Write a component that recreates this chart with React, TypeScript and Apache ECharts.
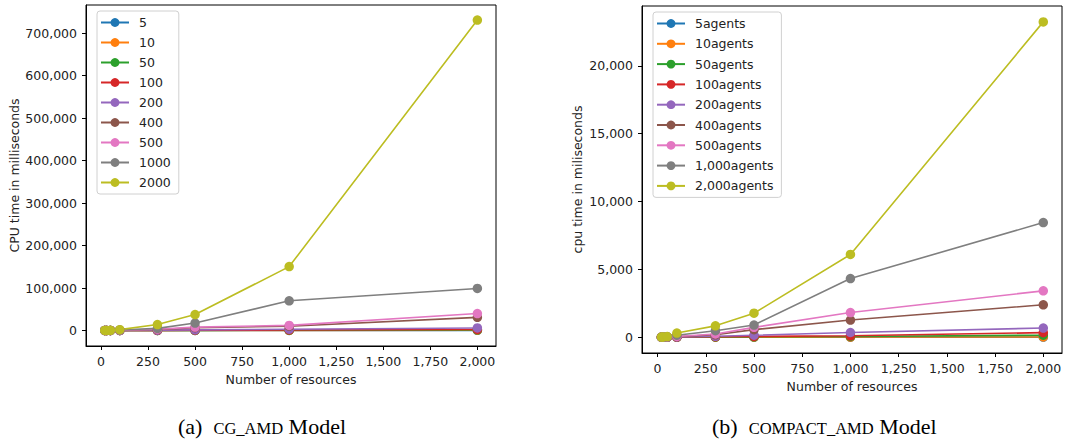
import React, { useEffect, useRef } from "react";
import * as echarts from "echarts";

const resources = [20, 30, 50, 100, 300, 500, 1000, 2000];
const xTicks = [0, 250, 500, 750, 1000, 1250, 1500, 1750, 2000];

const cgNames = ["5", "10", "50", "100", "200", "400", "500", "1000", "2000"];
const cg5 = [2, 3, 5, 10, 30, 60, 150, 400];
const cg10 = [3, 5, 8, 20, 60, 120, 300, 800];
const cg50 = [5, 8, 15, 40, 150, 300, 700, 1500];
const cg100 = [10, 15, 30, 80, 300, 600, 1200, 2500];
const cg200 = [20, 30, 60, 150, 600, 1500, 3000, 6000];
const cg400 = [40, 60, 120, 300, 2500, 6500, 10000, 31000];
const cg500 = [50, 80, 150, 500, 3000, 8000, 12000, 40000];
const cg1000 = [80, 120, 250, 1000, 5000, 17500, 70000, 99000];
const cg2000 = [150, 250, 500, 2000, 14000, 37500, 150500, 731000];
const cgYTicks = [0, 100000, 200000, 300000, 400000, 500000, 600000, 700000];

const cpNames = ["5agents", "10agents", "50agents", "100agents", "200agents", "400agents", "500agents", "1,000agents", "2,000agents"];
const cp5 = [1, 1, 2, 3, 5, 6, 8, 10];
const cp10 = [1, 2, 3, 4, 8, 10, 15, 20];
const cp50 = [2, 3, 5, 8, 20, 30, 60, 150];
const cp100 = [3, 5, 8, 15, 40, 60, 110, 340];
const cp200 = [4, 6, 10, 20, 70, 150, 350, 680];
const cp400 = [5, 8, 15, 40, 180, 560, 1270, 2390];
const cp500 = [6, 10, 20, 60, 240, 730, 1820, 3420];
const cp1000 = [8, 15, 30, 150, 480, 900, 4325, 8450];
const cp2000 = [10, 20, 50, 310, 840, 1770, 6100, 23240];
const cpYTicks = [0, 5000, 10000, 15000, 20000];

const colors = ["#1f77b4", "#ff7f0e", "#2ca02c", "#d62728", "#9467bd", "#8c564b", "#e377c2", "#7f7f7f", "#bcbd22"];

const FONT = "DejaVu Sans";
const FS = 12.5;
const TXT = "#222";

function fmt(v: number) {
  return Math.round(v).toLocaleString("en-US");
}

export default function App() {
  const ref = useRef<HTMLDivElement>(null);
  useEffect(() => {
    document.body.style.margin = "0";
    const chart = echarts.init(ref.current!, undefined, { renderer: "svg" });
    const cgData = [cg5, cg10, cg50, cg100, cg200, cg400, cg500, cg1000, cg2000];
    const cpData = [cp5, cp10, cp50, cp100, cp200, cp400, cp500, cp1000, cp2000];

    const mkSeries = (names: string[], data: number[][], idx: number) =>
      names.map((n, i) => ({
        name: n,
        type: "line",
        xAxisIndex: idx,
        yAxisIndex: idx,
        data: resources.map((r, j) => [r, data[i][j]]),
        symbol: "circle",
        symbolSize: 9.5,
        showSymbol: true,
        lineStyle: { width: 1.6, color: colors[i] },
        itemStyle: { color: colors[i] },
        emphasis: { disabled: true },
      }));

    const xAxisBase = (idx: number, min: number, max: number, nameGap: number) => ({
      type: "value",
      gridIndex: idx,
      min,
      max,
      name: "Number of resources",
      nameLocation: "middle",
      nameGap,
      nameTextStyle: { fontFamily: FONT, fontSize: FS, color: TXT },
      axisLine: { show: true, onZero: false, lineStyle: { color: "#000", width: 1 } },
      axisTick: { show: true, length: 4, customValues: xTicks, lineStyle: { color: "#000" } },
      axisLabel: {
        customValues: xTicks,
        formatter: (v: number) => fmt(v),
        fontFamily: FONT,
        fontSize: FS,
        color: TXT,
        margin: 9,
      },
      splitLine: { show: false },
    });

    const yAxisBase = (idx: number, min: number, max: number, ticks: number[], name: string, nameGap: number) => ({
      type: "value",
      gridIndex: idx,
      min,
      max,
      name,
      nameLocation: "middle",
      nameGap,
      nameTextStyle: { fontFamily: FONT, fontSize: FS, color: TXT },
      axisLine: { show: true, onZero: false, lineStyle: { color: "#000", width: 1 } },
      axisTick: { show: true, length: 4, customValues: ticks, lineStyle: { color: "#000" } },
      axisLabel: {
        customValues: ticks,
        formatter: (v: number) => fmt(v),
        fontFamily: FONT,
        fontSize: FS,
        color: TXT,
        margin: 9,
      },
      splitLine: { show: false },
    });

    const legendBase = (names: string[], left: number, top: number, gap: number) => ({
      data: names,
      orient: "vertical",
      left,
      top,
      itemWidth: 28,
      itemHeight: 11,
      itemGap: gap,
      padding: [5, 8, 5, 3],
      backgroundColor: "rgba(255,255,255,0.8)",
      borderColor: "#d0d0d0",
      borderWidth: 1,
      borderRadius: 3,
      selectedMode: false,
      textStyle: { fontFamily: FONT, fontSize: FS, color: TXT, padding: [0, 0, 0, 5] },
    });

    chart.setOption({
      animation: false,
      backgroundColor: "#fff",
      grid: [
        { left: 86, top: 5, width: 410, height: 341, show: true, borderColor: "#000", borderWidth: 1, backgroundColor: "transparent" },
        { left: 642, top: 6, width: 420, height: 347, show: true, borderColor: "#000", borderWidth: 1, backgroundColor: "transparent" },
      ],
      xAxis: [xAxisBase(0, -79.6, 2099, 26), xAxisBase(1, -80.8, 2097, 27)],
      yAxis: [
        yAxisBase(0, -36500, 766500, cgYTicks, "CPU time in milliseconds", 65),
        yAxisBase(1, -1160, 24410, cpYTicks, "cpu time in miliseconds", 58),
      ],
      legend: [legendBase(cgNames, 97, 11, 7), legendBase(cpNames, 653, 12, 7.3)],
      series: [...mkSeries(cgNames, cgData, 0), ...mkSeries(cpNames, cpData, 1)],
      graphic: [
        {
          type: "text",
          left: 178,
          top: 415,
          style: {
            text: "{a|(a)  }{s|CG_AMD}{a| Model}",
            rich: {
              a: { fontFamily: "Liberation Serif", fontSize: 22, fill: "#000", verticalAlign: "bottom" },
              s: { fontFamily: "Liberation Serif", fontSize: 16.5, fill: "#000", verticalAlign: "bottom" },
            },
          },
        },
        {
          type: "text",
          left: 712,
          top: 415,
          style: {
            text: "{a|(b)  }{s|COMPACT_AMD}{a| Model}",
            rich: {
              a: { fontFamily: "Liberation Serif", fontSize: 22, fill: "#000", verticalAlign: "bottom" },
              s: { fontFamily: "Liberation Serif", fontSize: 16.5, fill: "#000", verticalAlign: "bottom" },
            },
          },
        },
      ],
    });
    return () => chart.dispose();
  }, []);
  return <div ref={ref} style={{ width: 1090, height: 439 }} />;
}
